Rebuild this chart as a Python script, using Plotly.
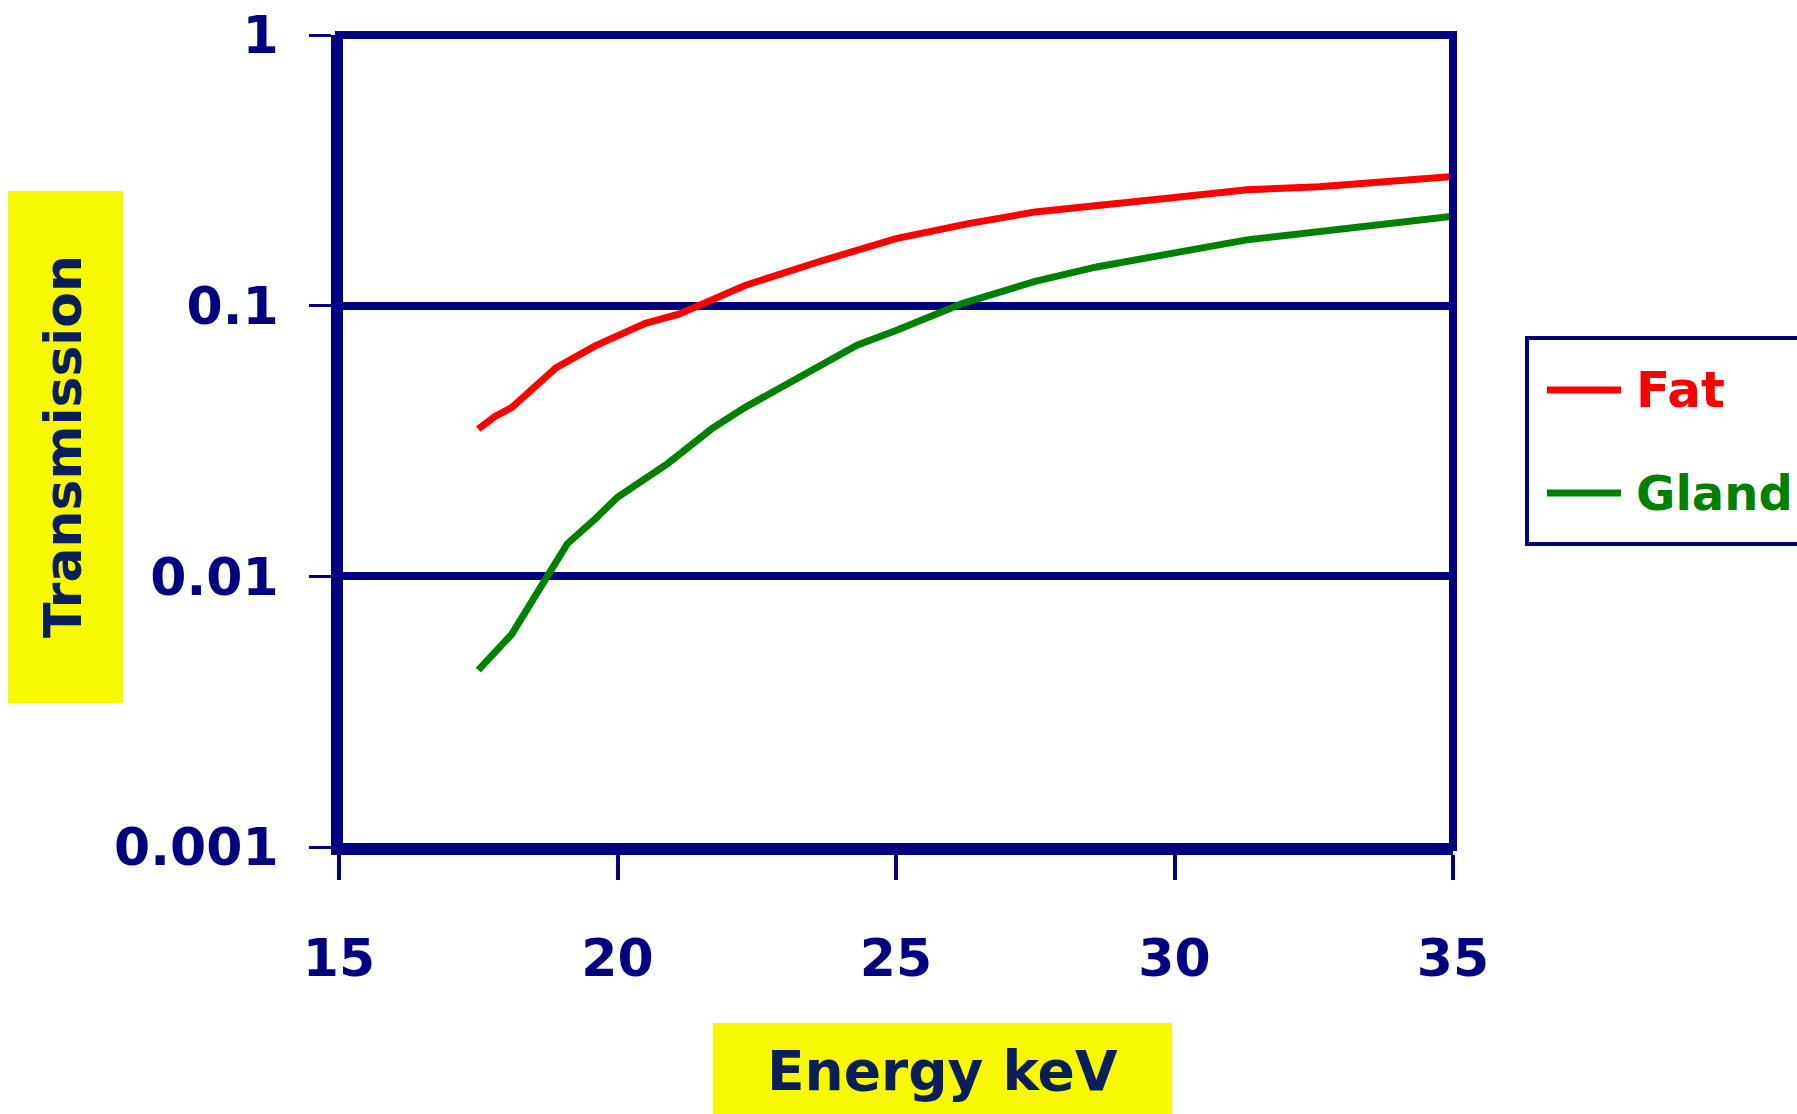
import plotly.graph_objects as go

# Transmission through breast tissue versus photon energy
fat_energy = [17.5, 17.8, 18.1, 18.9, 19.6, 20.5, 21.1, 22.3, 23.6, 25.0, 26.3, 27.5, 30.0, 31.3, 32.6, 35.0]
fat_trans = [0.035, 0.039, 0.042, 0.059, 0.071, 0.086, 0.093, 0.119, 0.145, 0.177, 0.201, 0.222, 0.251, 0.268, 0.275, 0.300]

gland_energy = [17.5, 18.1, 18.7, 19.1, 19.6, 20.0, 20.9, 21.7, 22.3, 23.2, 24.3, 25.0, 26.2, 27.5, 28.6, 30.1, 31.3, 35.0]
gland_trans = [0.0045, 0.0061, 0.0097, 0.0132, 0.0163, 0.0196, 0.0261, 0.0352, 0.0422, 0.0538, 0.0714, 0.081,
               0.102, 0.123, 0.139, 0.158, 0.175, 0.214]

x_ticks = [15, 20, 25, 30, 35]
y_ticks = [0.001, 0.01, 0.1, 1]
y_tick_text = ["0.001", "0.01", "0.1", "1"]

W, H = 1797, 1114
ML, MR, MT, MB = 339, 344, 35, 267
PW, PH = W - ML - MR, H - MT - MB

NAVY = "#000080"
TITLE = "#0a1f5a"
YELLOW = "#f8f800"
FONT = "Comic Sans MS, DejaVu Sans, sans-serif"


def px(x):
    return (x - ML) / PW


def py(y):
    return (H - MB - y) / PH


fig = go.Figure()
fig.add_trace(go.Scatter(x=fat_energy, y=fat_trans, mode="lines", name="Fat",
                         line=dict(color="#ff0000", width=7), showlegend=False))
fig.add_trace(go.Scatter(x=gland_energy, y=gland_trans, mode="lines", name="Gland",
                         line=dict(color="#008000", width=7), showlegend=False))

shapes = [
    # yellow boxes behind axis titles
    dict(type="rect", xref="paper", yref="paper", x0=px(8), x1=px(123), y0=py(703), y1=py(191),
         fillcolor=YELLOW, line=dict(width=0), layer="below"),
    dict(type="rect", xref="paper", yref="paper", x0=px(713), x1=px(1172), y0=py(1114), y1=py(1023),
         fillcolor=YELLOW, line=dict(width=0), layer="below"),
    # legend frame and samples
    dict(type="rect", xref="paper", yref="paper", x0=px(1527), x1=px(1830), y0=py(544), y1=py(338),
         fillcolor="white", line=dict(color=NAVY, width=4)),
    dict(type="line", xref="paper", yref="paper", x0=px(1547), x1=px(1621), y0=py(390), y1=py(390),
         line=dict(color="#ff0000", width=7)),
    dict(type="line", xref="paper", yref="paper", x0=px(1547), x1=px(1621), y0=py(493), y1=py(493),
         line=dict(color="#008000", width=7)),
    # plot frame
    dict(type="rect", xref="paper", yref="paper", x0=0, x1=1, y0=0, y1=1,
         line=dict(color=NAVY, width=8), layer="above"),
]

annotations = [
    dict(text="<b>Transmission</b>", xref="paper", yref="paper", x=px(63), y=py(447), showarrow=False,
         textangle=-90, font=dict(family=FONT, size=52, color=TITLE), xanchor="center", yanchor="middle"),
    dict(text="<b>Energy keV</b>", xref="paper", yref="paper", x=px(942), y=py(1071), showarrow=False,
         font=dict(family=FONT, size=55, color=TITLE), xanchor="center", yanchor="middle"),
    dict(text="<b>Fat</b>", xref="paper", yref="paper", x=px(1634), y=py(390), showarrow=False,
         font=dict(family=FONT, size=50, color="#ff0000"), xanchor="left", yanchor="middle"),
    dict(text="<b>Gland</b>", xref="paper", yref="paper", x=px(1634), y=py(493), showarrow=False,
         font=dict(family=FONT, size=48, color="#008000"), xanchor="left", yanchor="middle"),
]

fig.update_layout(
    width=W, height=H,
    margin=dict(l=ML, r=MR, t=MT, b=MB, pad=0, autoexpand=False),
    paper_bgcolor="white", plot_bgcolor="white",
    shapes=shapes, annotations=annotations,
    showlegend=False,
    xaxis=dict(range=[15, 35], tickvals=x_ticks, ticks="outside", ticklen=25, tickwidth=4,
               tickcolor=NAVY, showgrid=False, zeroline=False, showline=True, linecolor=NAVY,
               linewidth=8, ticklabelstandoff=34, automargin=False,
               tickfont=dict(family=FONT, size=52, color=NAVY, weight="bold")),
    yaxis=dict(type="log", range=[-3, 0], tickvals=y_ticks, ticktext=y_tick_text, ticks="outside",
               ticklen=22, tickwidth=3, tickcolor=NAVY, showgrid=True, gridcolor=NAVY, gridwidth=8,
               zeroline=False, showline=True, linecolor=NAVY, linewidth=8, ticklabelstandoff=20,
               automargin=False,
               tickfont=dict(family=FONT, size=52, color=NAVY, weight="bold")),
)

fig.write_html("out.html")
